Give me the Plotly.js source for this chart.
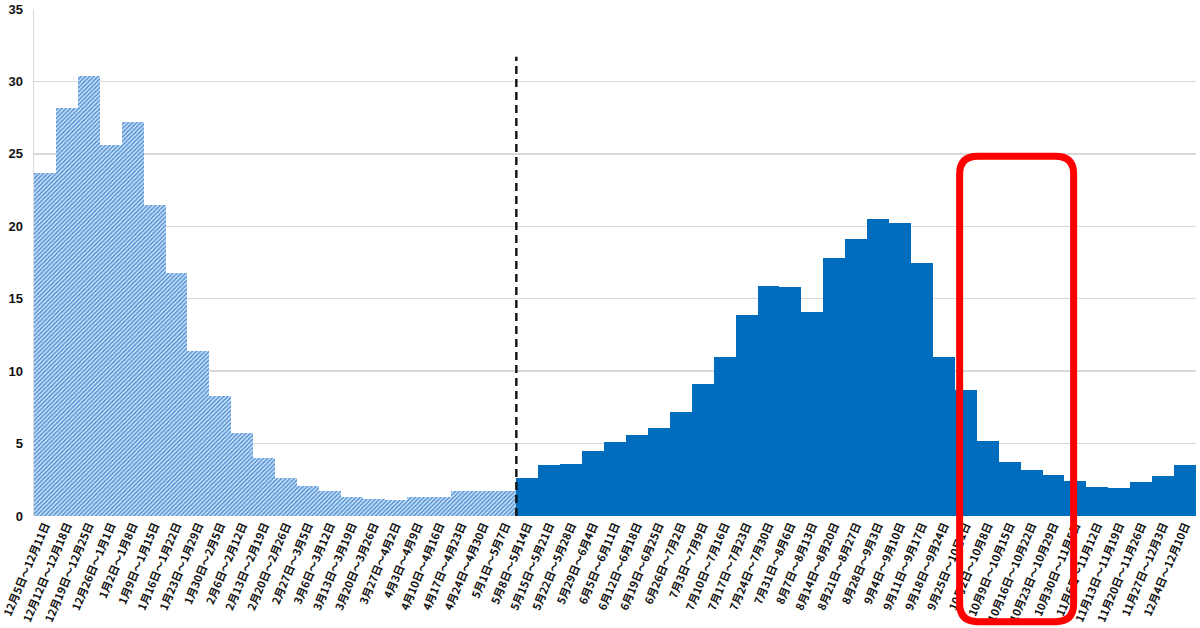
<!DOCTYPE html>
<html>
<head>
<meta charset="utf-8">
<script src="https://cdn.plot.ly/plotly-3.0.1.min.js"></script>
<style>
  html, body { margin: 0; padding: 0; background: #fff; }
  #chart { width: 1200px; height: 628px; }
</style>
</head>
<body>
<div id="chart"></div>
<script>
// weekly periods, Dec 2022 - Dec 2023
const weeks = [
  '12月5日～12月11日', '12月12日～12月18日', '12月19日～12月25日', '12月26日～1月1日',
  '1月2日～1月8日', '1月9日～1月15日', '1月16日～1月22日', '1月23日～1月29日',
  '1月30日～2月5日', '2月6日～2月12日', '2月13日～2月19日', '2月20日～2月26日',
  '2月27日～3月5日', '3月6日～3月12日', '3月13日～3月19日', '3月20日～3月26日',
  '3月27日～4月2日', '4月3日～4月9日', '4月10日～4月16日', '4月17日～4月23日',
  '4月24日～4月30日', '5月1日～5月7日',
  '5月8日～5月14日', '5月15日～5月21日', '5月22日～5月28日', '5月29日～6月4日',
  '6月5日～6月11日', '6月12日～6月18日', '6月19日～6月25日', '6月26日～7月2日',
  '7月3日～7月9日', '7月10日～7月16日', '7月17日～7月23日', '7月24日～7月30日',
  '7月31日～8月6日', '8月7日～8月13日', '8月14日～8月20日', '8月21日～8月27日',
  '8月28日～9月3日', '9月4日～9月10日', '9月11日～9月17日', '9月18日～9月24日',
  '9月25日～10月1日', '10月2日～10月8日', '10月9日～10月15日', '10月16日～10月22日',
  '10月23日～10月29日', '10月30日～11月5日', '11月6日～11月12日', '11月13日～11月19日',
  '11月20日～11月26日', '11月27日～12月3日', '12月4日～12月10日'
];

// before the 5/8 switch (hatched)
const beforeVals = [23.7, 28.2, 30.4, 25.6, 27.2, 21.5, 16.8, 11.4, 8.3, 5.7, 4.0, 2.6,
  2.1, 1.7, 1.3, 1.2, 1.1, 1.3, 1.3, 1.7, 1.7, 1.75];
// from 5/8 on (solid)
const afterVals = [2.6, 3.5, 3.6, 4.5, 5.1, 5.6, 6.1, 7.2, 9.1, 11.0, 13.9, 15.9, 15.8,
  14.1, 17.8, 19.1, 20.5, 20.2, 17.5, 11.0, 8.7, 5.2, 3.7, 3.2, 2.85, 2.4, 2.0, 1.95,
  2.35, 2.75, 3.5];

const yTicks = [0, 5, 10, 15, 20, 25, 30, 35];
const splitAt = beforeVals.length;
const dashTop = 31.7;

const trace1 = {
  type: 'bar',
  x: weeks.slice(0, splitAt),
  y: beforeVals,
  marker: {
    color: '#cfe1f5',
    pattern: { shape: '/', fgcolor: '#4f93d8', bgcolor: '#d4e4f6', size: 3, solidity: 0.5 },
    line: { width: 0 }
  },
  hoverinfo: 'x+y'
};
const trace2 = {
  type: 'bar',
  x: weeks.slice(splitAt),
  y: afterVals,
  marker: { color: '#006cbe', line: { width: 0 } },
  hoverinfo: 'x+y'
};

// rounded box in paper units
function roundRect(x0, x1, y0, y1, rx, ry) {
  return 'M' + (x0 + rx) + ',' + y1 +
    ' L' + (x1 - rx) + ',' + y1 +
    ' Q' + x1 + ',' + y1 + ' ' + x1 + ',' + (y1 - ry) +
    ' L' + x1 + ',' + (y0 + ry) +
    ' Q' + x1 + ',' + y0 + ' ' + (x1 - rx) + ',' + y0 +
    ' L' + (x0 + rx) + ',' + y0 +
    ' Q' + x0 + ',' + y0 + ' ' + x0 + ',' + (y0 + ry) +
    ' L' + x0 + ',' + (y1 - ry) +
    ' Q' + x0 + ',' + y1 + ' ' + (x0 + rx) + ',' + y1 + ' Z';
}

const layout = {
  width: 1200,
  height: 628,
  margin: { l: 34, r: 4, t: 9, b: 112 },
  paper_bgcolor: '#ffffff',
  plot_bgcolor: '#ffffff',
  showlegend: false,
  barmode: 'overlay',
  bargap: 0,
  font: { family: '"Noto Sans CJK JP", "Liberation Sans", sans-serif', color: '#111' },
  xaxis: {
    type: 'category',
    categoryorder: 'array',
    categoryarray: weeks,
    tickangle: -67,
    tickfont: { size: 11, weight: 'bold', family: '"Noto Sans CJK JP", sans-serif', color: '#111' },
    showgrid: false,
    showline: false,
    ticks: '',
    zeroline: false
  },
  yaxis: {
    range: [0, 35],
    tickmode: 'linear',
    tick0: 0,
    dtick: 5,
    tickfont: { size: 13, weight: 'bold', family: '"Liberation Sans", Arial, sans-serif', color: '#111' },
    showgrid: true,
    gridcolor: '#d9d9d9',
    gridwidth: 1.5,
    showline: true,
    linecolor: '#d9d9d9',
    linewidth: 1.5,
    zeroline: false,
    ticks: '',
    ticklabelstandoff: 7
  },
  shapes: [
    {
      type: 'line', xref: 'x', yref: 'y',
      x0: splitAt - 0.5, x1: splitAt - 0.5, y0: 0, y1: dashTop,
      line: { color: '#111', width: 2.4, dash: '8px,5px' },
      layer: 'above'
    },
    {
      type: 'path', xref: 'paper', yref: 'paper',
      path: roundRect(0.7966, 0.8947, -0.2085, 0.7094, 0.0155, 0.0352),
      line: { color: '#ff0000', width: 7 },
      fillcolor: 'rgba(0,0,0,0)',
      layer: 'above'
    }
  ]
};

const config = { staticPlot: true, responsive: false };

Plotly.newPlot('chart', [trace1, trace2], layout, config);
</script>
</body>
</html>
